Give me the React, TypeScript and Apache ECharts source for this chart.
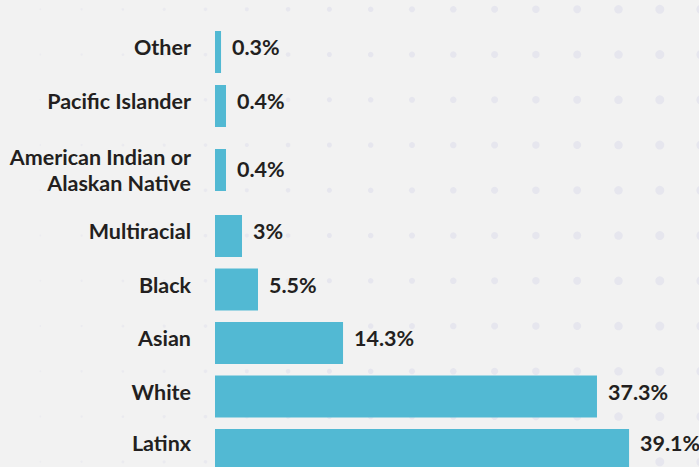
import React, { useEffect, useRef } from "react";
import * as echarts from "echarts";

const categories = [
  "Other",
  "Pacific Islander",
  "American Indian or\nAlaskan Native",
  "Multiracial",
  "Black",
  "Asian",
  "White",
  "Latinx",
];
// bar lengths as drawn in the picture (percentage scale)
const barLengths = [0.57, 1.04, 1.04, 2.55, 4.06, 12.09, 36.07, 39.1];
// value labels as printed
const valueLabels = ["0.3%", "0.4%", "0.4%", "3%", "5.5%", "14.3%", "37.3%", "39.1%"];
// row groups (start, end) – the two-line label row is taller
const rowGroups: [number, number][] = [
  [0, 2],
  [2, 3],
  [3, 7],
  [7, 8],
];

const BAR_COLOR = "#52b9d3";
const TEXT_COLOR = "#231f20";
const FONT = "Lato";
const FS = 21.5;

export default function App() {
  const ref = useRef<HTMLDivElement>(null);
  useEffect(() => {
    if (!ref.current) return;
    const chart = echarts.init(ref.current, null, { renderer: "svg" });

    const gridLayouts = [
      { top: 25, height: 108 },
      { top: 143, height: 54 },
      { top: 209.25, height: 214 },
      { top: 429, height: 42 },
    ];
    const grid = gridLayouts.map((g) => ({
      left: 215,
      width: 423.6,
      top: g.top,
      height: g.height,
      containLabel: false,
    }));
    const xAxis = rowGroups.map((_, i) => ({
      type: "value",
      gridIndex: i,
      min: 0,
      max: 40,
      show: false,
    }));
    const yAxis = rowGroups.map(([s, e], i) => ({
      type: "category",
      gridIndex: i,
      inverse: true,
      data: categories.slice(s, e),
      axisLine: { show: false },
      axisTick: { show: false },
      splitLine: { show: false },
      axisLabel: {
        margin: 24,
        fontFamily: FONT,
        fontWeight: "bold",
        fontSize: FS,
        color: TEXT_COLOR,
        lineHeight: i === 1 ? 26 : 10,
        align: "right",
        verticalAlign: i === 1 ? "middle" : "bottom",
      },
    }));
    const series = rowGroups.map(([s, e], i) => ({
      type: "bar",
      xAxisIndex: i,
      yAxisIndex: i,
      barWidth: 42,
      data: barLengths.slice(s, e),
      itemStyle: { color: BAR_COLOR },
      label: {
        show: true,
        position: "right",
        distance: 11,
        offset: [0, i === 1 ? -1 : -5],
        fontFamily: FONT,
        fontWeight: "bold",
        fontSize: FS,
        color: TEXT_COLOR,
        formatter: (p: any) => valueLabels[s + p.dataIndex],
      },
    }));

    // decorative dot pattern in the background
    const dots: any[] = [];
    for (let r = 0; r < 11; r++) {
      for (let c = 0; c < 18; c++) {
        const x = c * 41.3 - 1;
        const y = 9.3 + r * 45.25;
        const rad = 0.6 + x / 170;
        dots.push({
          type: "circle",
          shape: { cx: x, cy: y, r: Math.max(rad, 0.6) },
          style: { fill: "#e6e6ee", opacity: Math.min(1, 0.4 + x / 550) },
          silent: true,
        });
      }
    }

    chart.setOption({
      animation: false,
      backgroundColor: "#f2f2f2",
      graphic: [{ type: "group", z: -10, children: dots }],
      grid,
      xAxis,
      yAxis,
      series,
    });
    return () => chart.dispose();
  }, []);
  return (
    <div
      ref={ref}
      style={{ position: "fixed", left: 0, top: 0, width: 699, height: 467 }}
    />
  );
}
